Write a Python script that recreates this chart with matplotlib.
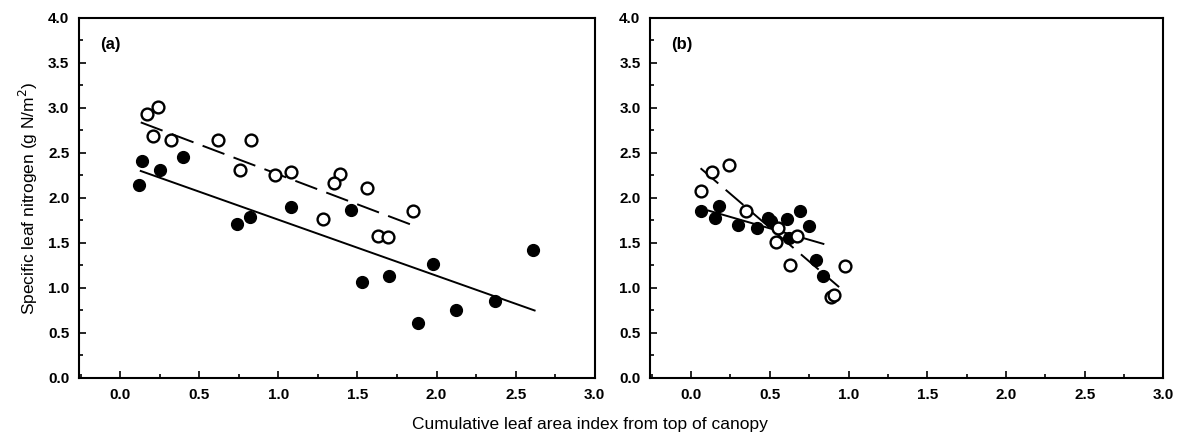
import matplotlib
matplotlib.use("Agg")
import matplotlib.pyplot as plt
import numpy as np
from matplotlib.ticker import MultipleLocator

plt.rcParams["font.family"] = ["Liberation Sans", "DejaVu Sans"]

# (a) open circles
a_open_x = [0.17, 0.24, 0.21, 0.32, 0.62, 0.83, 0.76, 0.98, 1.08,
            1.39, 1.35, 1.56, 1.28, 1.85, 1.63, 1.69]
a_open_y = [2.93, 3.01, 2.69, 2.64, 2.64, 2.64, 2.31, 2.25, 2.29,
            2.27, 2.17, 2.11, 1.77, 1.85, 1.58, 1.57]
# (a) filled circles
a_fill_x = [0.14, 0.25, 0.40, 0.12, 0.74, 0.82, 1.08, 1.46, 1.98,
            1.53, 1.70, 1.88, 2.12, 2.37, 2.61]
a_fill_y = [2.41, 2.31, 2.46, 2.14, 1.71, 1.79, 1.90, 1.87, 1.27,
            1.07, 1.13, 0.61, 0.75, 0.86, 1.42]
# (a) fitted lines: (x start, x end), (y start, y end)
a_open_fit_x = [0.13, 1.86]
a_open_fit_y = [2.84, 1.69]
a_fill_fit_x = [0.13, 2.62]
a_fill_fit_y = [2.30, 0.75]

# (b) open circles
b_open_x = [0.24, 0.13, 0.06, 0.35, 0.55, 0.54, 0.67, 0.63, 0.98, 0.89, 0.91]
b_open_y = [2.37, 2.29, 2.08, 1.86, 1.67, 1.51, 1.58, 1.25, 1.24, 0.90, 0.92]
# (b) filled circles
b_fill_x = [0.06, 0.18, 0.15, 0.30, 0.42, 0.49, 0.51, 0.61, 0.69,
            0.75, 0.62, 0.79, 0.84]
b_fill_y = [1.86, 1.91, 1.78, 1.70, 1.67, 1.78, 1.74, 1.77, 1.85,
            1.69, 1.56, 1.31, 1.13]
b_open_fit_x = [0.06, 0.94]
b_open_fit_y = [2.33, 1.01]
b_fill_fit_x = [0.11, 0.84]
b_fill_fit_y = [1.86, 1.49]

x_ticks = np.arange(0, 3.01, 0.5)
y_ticks = np.arange(0, 4.01, 0.5)


def draw_panel(ax, tag, ox, oy, fx, fy, ofx, ofy, ffx, ffy):
    ax.plot(ofx, ofy, color="black", lw=1.4, ls=(0, (12, 5)))
    ax.plot(ffx, ffy, color="black", lw=1.4)
    ax.plot(fx, fy, "o", ms=8.5, color="black", mec="black")
    ax.plot(ox, oy, "o", ms=8.5, mfc="white", mec="black", mew=1.7)

    ax.set_xlim(-0.26, 3.0)
    ax.set_ylim(0, 4.0)
    ax.set_xticks(x_ticks, labels=[f"{v:.1f}" for v in x_ticks])
    ax.set_yticks(y_ticks, labels=[f"{v:.1f}" for v in y_ticks])
    ax.xaxis.set_minor_locator(MultipleLocator(0.25))
    ax.yaxis.set_minor_locator(MultipleLocator(0.25))
    ax.tick_params(which="both", direction="in", width=1.2)
    ax.tick_params(which="major", length=5, labelsize=11, pad=7)
    ax.tick_params(which="minor", length=3)
    for lab in ax.get_xticklabels() + ax.get_yticklabels():
        lab.set_fontweight("bold")
    for sp in ax.spines.values():
        sp.set_linewidth(1.5)
    ax.text(0.04, 0.925, tag, transform=ax.transAxes, fontsize=12,
            fontweight="bold", va="center")


fig = plt.figure(figsize=(11.8, 4.38), dpi=100)
ax_a = fig.add_axes([0.067, 0.137, 0.437, 0.822])
ax_b = fig.add_axes([0.551, 0.137, 0.435, 0.822])

draw_panel(ax_a, "(a)", a_open_x, a_open_y, a_fill_x, a_fill_y,
           a_open_fit_x, a_open_fit_y, a_fill_fit_x, a_fill_fit_y)
draw_panel(ax_b, "(b)", b_open_x, b_open_y, b_fill_x, b_fill_y,
           b_open_fit_x, b_open_fit_y, b_fill_fit_x, b_fill_fit_y)

ax_a.set_ylabel("Specific leaf nitrogen (g N/m$^2$)", fontsize=12.5, labelpad=6)
fig.text(0.5, 0.03, "Cumulative leaf area index from top of canopy",
         ha="center", va="center", fontsize=12.5)

fig.savefig("out.png", dpi=100)
